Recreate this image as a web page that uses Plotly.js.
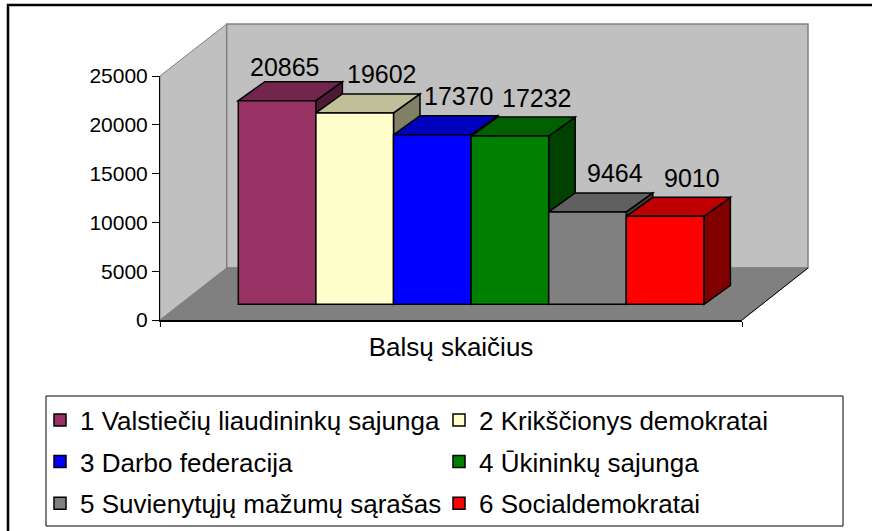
<!DOCTYPE html>
<html><head><meta charset="utf-8">
<script src="https://cdn.plot.ly/plotly-3.0.1.min.js"></script>
<style>html,body{margin:0;padding:0;background:#fff}#chart{width:872px;height:531px}</style>
</head><body><div id="chart"></div>
<script>
// ---- data ----
const parties = ['1 Valstiečių liaudininkų sajunga','2 Krikščionys demokratai','3 Darbo federacija','4 Ūkininkų sajunga','5 Suvienytųjų mažumų sąrašas','6 Socialdemokratai'];
const votes = [20865, 19602, 17370, 17232, 9464, 9010];
const barColors = ['#993366','#FFFFCC','#0000FF','#008000','#808080','#FF0000'];
const yTicks = [0, 5000, 10000, 15000, 20000, 25000];
const axisTitle = 'Balsų skaičius';

// ---- geometry / style ----
const FONT = "Arial, 'Liberation Sans', sans-serif";
const W = 872, H = 531, ML = 160, MR = 20, MT = 76, MB = 211;
const GW = W - ML - MR, GH = H - MT - MB;
const frontRight = 742;              // right end of the floor front edge
const barPx = 77.6;                  // pixels per category
const firstBarCenter = 277.1;
const xr0 = -(firstBarCenter - ML) / barPx;
const xr1 = xr0 + (frontRight - ML) / barPx;
const yMax = 25000;
const unitsPerPx = yMax / GH;
const base = 15.7 * unitsPerPx;      // bars stand this far back on the floor (depth plane)
const dxPx = 26.5, dyPx = 19;
const dx = dxPx / barPx, dy = dyPx * unitsPerPx;

function px(X) { return (X - ML) / GW; }
function py(Y) { return (MT + GH - Y) / GH; }
function shade(hex, f) {
  const n = parseInt(hex.slice(1), 16);
  const r = Math.round(((n >> 16) & 255) * f), g = Math.round(((n >> 8) & 255) * f), b = Math.round((n & 255) * f);
  return 'rgb(' + r + ',' + g + ',' + b + ')';
}
function ppath(pts) { return 'M' + pts.map(p => px(p[0]) + ',' + py(p[1])).join('L') + 'Z'; }

const shapes = [];
// walls and floor
shapes.push({type:'path', xref:'paper', yref:'paper', layer:'below',
  path: ppath([[160,76],[226.7,24],[226.7,268],[160,320]]),
  fillcolor:'#C0C0C0', line:{color:'#808080', width:1}});
shapes.push({type:'rect', xref:'paper', yref:'paper', layer:'below',
  x0:px(226.7), x1:px(808), y0:py(268), y1:py(24),
  fillcolor:'#C0C0C0', line:{color:'#808080', width:1.5}});
shapes.push({type:'path', xref:'paper', yref:'paper', layer:'below',
  path: ppath([[160,320],[226.7,268],[808,268],[742,320]]),
  fillcolor:'#808080', line:{color:'#808080', width:1}});
shapes.push({type:'line', xref:'paper', yref:'paper', layer:'below',
  x0:px(742), y0:py(320), x1:px(808), y1:py(268), line:{color:'#000', width:1}});

// 3D faces of bars (sides first, then tops)
votes.forEach((v, i) => {
  const a = i + 0.5, t = base + v;
  shapes.push({type:'path', xref:'x', yref:'y', layer:'below',
    path:`M${a},${base}L${a+dx},${base+dy}L${a+dx},${t+dy}L${a},${t}Z`,
    fillcolor: shade(barColors[i], 0.5), line:{color:'#000', width:1.5}});
});
votes.forEach((v, i) => {
  const a = i - 0.5, b = i + 0.5, t = base + v;
  shapes.push({type:'path', xref:'x', yref:'y', layer:'below',
    path:`M${a},${t}L${a+dx},${t+dy}L${b+dx},${t+dy}L${b},${t}Z`,
    fillcolor: shade(barColors[i], 0.75), line:{color:'#000', width:1.5}});
});

// legend box and outer frame
shapes.push({type:'rect', xref:'paper', yref:'paper', layer:'above',
  x0:px(46), x1:px(843), y0:py(526), y1:py(396), line:{color:'#000', width:1}});
shapes.push({type:'rect', xref:'paper', yref:'paper', layer:'above',
  x0:px(8), x1:px(900), y0:py(560), y1:py(5), line:{color:'#000', width:2.5}});

// data labels
const labelDx = [8, 27, 27, 27, 27, 27];
const labelGap = [5, 10, 10, 10, 10, 10];
const annotations = votes.map((v, i) => ({
  x: i, y: base + v, xref:'x', yref:'y', text: String(v), showarrow:false,
  xanchor:'center', yanchor:'bottom', xshift: labelDx[i], yshift: dyPx + labelGap[i] - 6.5,
  font:{family:FONT, size:25, color:'#000'}
}));

const legendIds = ['legend', 'legend2', 'legend3'];
const traces = votes.map((v, i) => ({
  type:'bar', x:[i], y:[v], base:[base], width:1, name: parties[i],
  legend: legendIds[Math.floor(i / 2)],
  marker:{color: barColors[i], line:{color:'#000', width:1.5}},
  hoverinfo:'skip'
}));

const rowCenters = [420, 461.5, 503.3];
const LEG_FS = 26;
function legendCfg(r) {
  const h = LEG_FS * 1.3 + 3;
  return {orientation:'h', x:px(40), xanchor:'left', y:py(rowCenters[r] - h / 2 - 5), yanchor:'top',
    font:{family:FONT, size:LEG_FS, color:'#000'}, entrywidth:354, entrywidthmode:'pixels',
    bgcolor:'rgba(0,0,0,0)', borderwidth:0, itemclick:false, itemdoubleclick:false};
}

const layout = {
  width:W, height:H, margin:{l:ML, r:MR, t:MT, b:MB, autoexpand:false},
  paper_bgcolor:'#fff', plot_bgcolor:'rgba(0,0,0,0)',
  font:{family:FONT, color:'#000'},
  barmode:'overlay', showlegend:true, hovermode:false,
  xaxis:{domain:[0, (frontRight - ML) / GW], range:[xr0, xr1], showgrid:false, zeroline:false,
    showline:true, linecolor:'#000', linewidth:1.5, ticks:'outside', tickvals:[xr0, xr1],
    ticklen:5, tickcolor:'#000', tickwidth:1, showticklabels:false, fixedrange:true,
    title:{text:axisTitle, font:{family:FONT, size:26, color:'#000'}, standoff:12}},
  yaxis:{range:[0, yMax], tickvals:yTicks, tickformat:'d', showgrid:false, zeroline:false,
    showline:true, linecolor:'#000', linewidth:1, ticks:'outside', ticklen:7, tickcolor:'#000',
    tickfont:{family:FONT, size:21, color:'#000'}, fixedrange:true},
  legend:legendCfg(0), legend2:legendCfg(1), legend3:legendCfg(2),
  shapes:shapes, annotations:annotations
};

Plotly.newPlot('chart', traces, layout, {staticPlot:true, displayModeBar:false});
</script></body></html>
